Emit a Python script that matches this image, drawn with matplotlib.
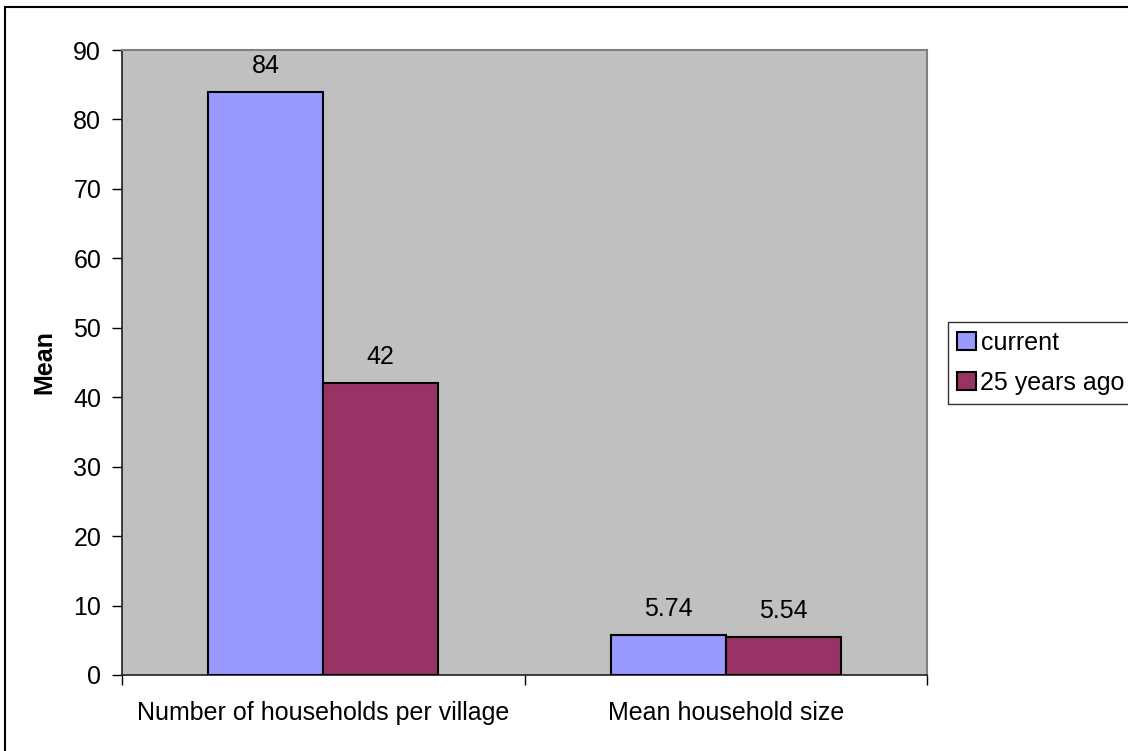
import matplotlib
matplotlib.use("Agg")
import matplotlib.pyplot as plt
from matplotlib.patches import Rectangle
import numpy as np

categories = ["Number of households per village", "Mean household size"]
current = [84, 5.74]
years_ago = [42, 5.54]
current_labels = ["84", "5.74"]
years_ago_labels = ["42", "5.54"]

plt.rcParams["font.family"] = ["Liberation Sans", "DejaVu Sans"]
FS = 18

fig = plt.figure(figsize=(11.28, 7.51), dpi=100)
ax = fig.add_axes([122 / 1128, 1 - 675 / 751, 805 / 1128, 625 / 751])
ax.set_facecolor("#c0c0c0")

x = np.arange(len(categories))
w = 0.286
b1 = ax.bar(x - w / 2, current, w, color="#9999ff", edgecolor="black", linewidth=1.5, label="current", zorder=3)
b2 = ax.bar(x + w / 2, years_ago, w, color="#993366", edgecolor="black", linewidth=1.5, label="25 years ago", zorder=3)

for bars, labels in ((b1, current_labels), (b2, years_ago_labels)):
    for rect, lab in zip(bars, labels):
        ax.annotate(lab, (rect.get_x() + rect.get_width() / 2, rect.get_height()),
                    xytext=(0, 10), textcoords="offset points",
                    ha="center", va="bottom", fontsize=FS)

ax.set_xlim(-0.5, 1.5)
ax.set_ylim(0, 90)
ax.set_yticks(range(0, 91, 10))
ax.tick_params(axis="y", labelsize=FS, length=7, width=1, direction="out", pad=8)

# category labels sit between boundary ticks
ax.set_xticks([-0.5, 0.5, 1.5])
ax.set_xticklabels([])
ax.set_xticks(x, minor=True)
ax.set_xticklabels(categories, minor=True, fontsize=FS)
ax.tick_params(axis="x", which="major", length=7, width=1, direction="out")
ax.tick_params(axis="x", which="minor", length=0, pad=19)

ax.set_ylabel("Mean", fontsize=FS, fontweight="bold", labelpad=12)

for s in ("top", "right"):
    ax.spines[s].set_color("#808080")
    ax.spines[s].set_linewidth(1.5)
for s in ("left", "bottom"):
    ax.spines[s].set_color("#202020")
    ax.spines[s].set_linewidth(1.2)

leg = fig.legend(handles=[b1, b2], loc="upper left",
                 bbox_to_anchor=(948 / 1128, 1 - 322 / 751),
                 fontsize=FS, frameon=True, fancybox=False, shadow=False,
                 handlelength=0.75, handleheight=0.75, handletextpad=0.2,
                 borderpad=0.35, labelspacing=0.65, borderaxespad=0)
leg.get_frame().set_edgecolor("black")
leg.get_frame().set_linewidth(1)

fig.patches.append(Rectangle((5 / 1128, -0.05), 1.1, 1 - 7 / 751 + 0.05,
                             transform=fig.transFigure, fill=False,
                             edgecolor="black", linewidth=1.5))

fig.savefig("out.png", dpi=100)
